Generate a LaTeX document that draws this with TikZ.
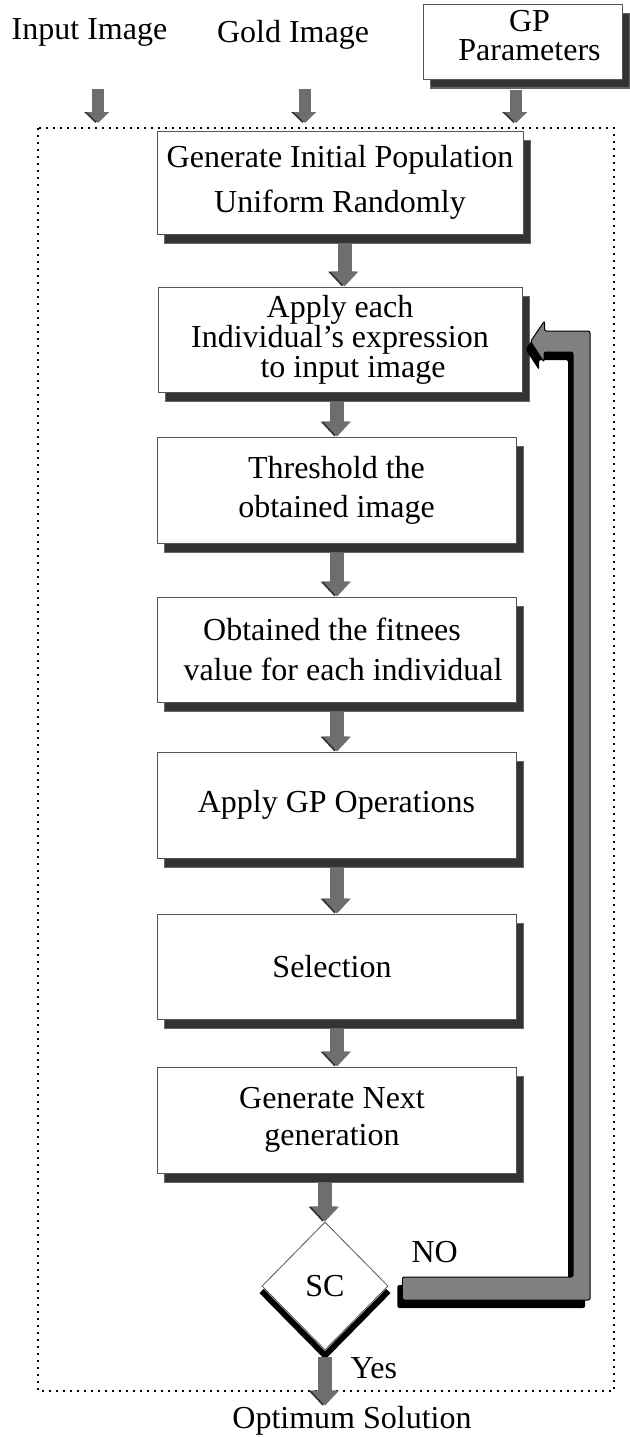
\documentclass[tikz,border=0pt]{standalone}
\usepackage{fontspec}
\setmainfont{Liberation Serif}
\usetikzlibrary{arrows.meta,shapes.geometric,shadows,backgrounds}
\definecolor{boxline}{HTML}{555555}
\definecolor{boxshade}{HTML}{333333}
\definecolor{arrowgrey}{HTML}{6E6E6E}
\definecolor{arrowdark}{HTML}{333333}
\definecolor{loopgrey}{HTML}{808080}

\begin{document}
\begin{tikzpicture}[x=1pt,y=-1pt,
  every node/.style={font=\fontsize{32}{38}\selectfont},
  stepbox/.style={rectangle, draw=boxline, line width=1pt, fill=white,
    align=center, inner sep=0pt,
    drop shadow={shadow xshift=7pt, shadow yshift=-9pt, opacity=1,
      fill=boxshade, draw=black!60, line width=0.8pt}},
  decision/.style={diamond, aspect=1, draw=boxline, line width=0.8pt,
    fill=white, inner sep=0pt, minimum width=126pt, minimum height=128pt},
  flowarrow/.style={line width=14pt, draw=arrowgrey,
    -{Triangle[width=27pt,length=15pt]},
    preaction={draw=arrowdark, transform canvas={xshift=-2.5pt}}},
  toparrow/.style={line width=12pt, draw=arrowgrey,
    -{Triangle[width=22pt,length=11pt]},
    preaction={draw=arrowdark, transform canvas={xshift=-2.5pt}}},
  loopshape/.style={fill=loopgrey, draw=black, line width=1pt,
    rounded corners=2pt,
    preaction={fill=black, transform canvas={shift={(-5pt,-8pt)}}}},
  dotframe/.style={draw=black, line width=1.8pt, dash pattern=on 1.8pt off 5.2pt},
]
\useasboundingbox (0,0) rectangle (629,1437);

% outer dotted frame around the evolutionary loop
\draw[dotframe] (38,128) rectangle (614,1391);

% inputs
\node[anchor=base] (inp) at (89.5,40) {Input Image};
\node[anchor=base] (gold) at (293,43) {Gold Image};
\node[stepbox, minimum width=199pt, minimum height=74pt, text depth=13pt,
  drop shadow={shadow xshift=7pt, shadow yshift=-8pt, opacity=1,
    fill=boxshade, draw=black!60, line width=0.8pt}]
  (gp) at (522.5,42) {\hspace*{14pt}GP\\[-9pt]\hspace*{14pt}Parameters};

\coordinate (inS) at (98,89);   \coordinate (inE) at (98,123);
\coordinate (goS) at (305,89);  \coordinate (goE) at (305,123);
\coordinate (gpE) at (516,123);

% processing steps
\node[stepbox, minimum width=366pt, minimum height=103pt] (b1) at (340,182.5)
  {Generate Initial Population\\[7pt]Uniform Randomly};
\node[stepbox, minimum width=364pt, minimum height=105pt] (b2) at (340,339.5)
  {Apply each\\[-8pt]Individual's expression\hspace*{30pt}\\[-8pt]\hspace*{26pt}to input image};
\node[stepbox, minimum width=359pt, minimum height=106pt] (b3) at (336.5,490)
  {Threshold the\\[1pt]obtained image};
\node[stepbox, minimum width=359pt, minimum height=105pt] (b4) at (336.5,649.5)
  {Obtained the fitnees\hspace*{9pt}\\[2pt]\hspace*{13pt}value for each individual};
\node[stepbox, minimum width=359pt, minimum height=106pt] (b5) at (336.5,805)
  {Apply GP Operations};
\node[stepbox, minimum width=359pt, minimum height=105pt] (b6) at (336.5,966.5)
  {Selection\hspace*{9pt}};
\node[stepbox, minimum width=359pt, minimum height=106pt] (b7) at (336.5,1120)
  {Generate Next\hspace*{9pt}\\[-1pt]generation\hspace*{9pt}};

% stopping criterion
\node[decision] (sc) at (325,1286) {SC};
\begin{scope}[on background layer]
  \draw[line width=6pt, black] ([yshift=-5pt]sc.west) -- ([yshift=-5pt]sc.south)
    -- ([yshift=-5pt]sc.east);
\end{scope}

\node[anchor=base west] (no) at (408,1262) {NO};
\node[anchor=base west] (yes) at (347,1378) {Yes};
\node[anchor=base, inner sep=0pt] (opt) at (352,1428) {Optimum Solution};

% input arrows
\draw[toparrow] (inS) -- (inE);
\draw[toparrow] (goS) -- (goE);
\draw[toparrow] ([xshift=-6.5pt,yshift=-10pt]gp.south) -- (gpE);

% main flow
\draw[flowarrow] ([xshift=4.5pt,yshift=-9pt]b1.south) -- ([xshift=4.5pt]b2.north);
\draw[flowarrow] ([xshift=-3pt,yshift=-9pt]b2.south) -- ([xshift=0.5pt]b3.north);
\draw[flowarrow] ([xshift=0.5pt,yshift=-9pt]b3.south) -- ([xshift=0.5pt]b4.north);
\draw[flowarrow] ([xshift=0.5pt,yshift=-9pt]b4.south) -- ([xshift=0.5pt]b5.north);
\draw[flowarrow] ([xshift=0.5pt,yshift=-9pt]b5.south) -- ([xshift=0.5pt]b6.north);
\draw[flowarrow] ([xshift=0.5pt,yshift=-9pt]b6.south) -- ([xshift=0.5pt]b7.north);
\draw[flowarrow] ([xshift=-11.5pt,yshift=-9pt]b7.south) -- (sc.north);
\draw[flowarrow] ([yshift=-7pt]sc.south) -- (opt.north -| sc.south);

% NO branch: back to the expression step
\draw[loopshape] ([xshift=8pt,yshift=-2pt]b2.east) -- ++(14,-20.5) -- ++(0,10)
  -- (590,331) -- (590,1300) -- ([xshift=14pt,yshift=-14pt]sc.east)
  -- ([xshift=14pt,yshift=9pt]sc.east) -- (573,1277) -- (573,352)
  -- (544,352) -- (544,362) -- cycle;
\end{tikzpicture}
\end{document}
